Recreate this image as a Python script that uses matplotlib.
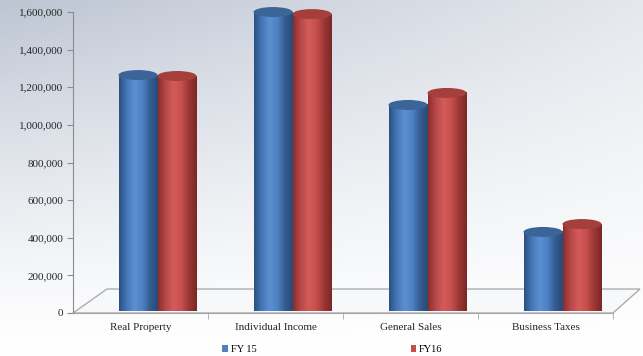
import numpy as np
import matplotlib
matplotlib.use("Agg")
import matplotlib.pyplot as plt
from matplotlib.patches import Ellipse, Polygon, Patch
from matplotlib.colors import LinearSegmentedColormap, to_rgb

categories = ['Real Property', 'Individual Income', 'General Sales', 'Business Taxes']
fy15 = [1201000, 1536000, 1042000, 367000]
fy16 = [1196000, 1525000, 1106000, 409000]
series_names = ['FY 15', 'FY16']
yticks = np.arange(0, 1600001, 200000)

plt.rcParams['font.family'] = ['Liberation Serif', 'DejaVu Serif']

W, H = 643, 356
fig = plt.figure(figsize=(W / 100, H / 100), dpi=100)

# background gradient over the whole figure
bg = fig.add_axes([0, 0, 1, 1], zorder=-10)
xx, yy = np.meshgrid(np.linspace(0, 1, 200), np.linspace(1, 0, 120))
d = np.clip(yy ** 1.3 * (1 - 0.6 * xx), 0, 1)
dark = np.array(to_rgb('#bdc5d3'))
img = 1 - d[..., None] * (1 - dark)
bg.imshow(img, aspect='auto', extent=[0, 1, 0, 1], interpolation='bilinear')
bg.axis('off')

# main axes: left edge at x=73px, front floor line at y=313px, top at y=12px
ax = fig.add_axes([73 / W, 43 / H, 540 / W, 301 / H])
ax.patch.set_alpha(0)
ymax = 1600000
ax.set_xlim(-0.5, 3.5)
ax.set_ylim(0, ymax)

px_x = 1 / 135.0          # one pixel in category units
px_y = ymax / 301.0       # one pixel in value units
dx, dy = 17 * px_x, 12 * px_y   # half depth offset of the floor
bw = 39 * px_x
eh = 10 * px_y

# floor parallelogram
floor = Polygon([(-0.5, 0), (3.5, 0), (3.5 + 27 * px_x, 24 * px_y),
                 (-0.5 + 34 * px_x, 24 * px_y)], closed=True,
                facecolor='#f7f8fa', edgecolor='#a6a6a6', lw=0.9,
                clip_on=False, zorder=1)
ax.add_patch(floor)

blue_cmap = LinearSegmentedColormap.from_list(
    'b', ['#2b5183', '#4577b8', '#5b8fd2', '#4f82c4', '#345d92', '#274a78'])
red_cmap = LinearSegmentedColormap.from_list(
    'r', ['#8a2f2d', '#b9484a', '#d35c59', '#c6504d', '#9c3835', '#7a2826'])
styles = [(fy15, blue_cmap, '#3b6598', -bw / 2), (fy16, red_cmap, '#a53f3c', bw / 2)]

grad = np.linspace(0, 1, 64)[None, :]
z = 3
for vals, cmap, capcol, off in styles:
    xs = np.arange(len(categories)) + dx + off
    bars = ax.bar(xs, vals, width=bw, bottom=dy, color='none', zorder=z, clip_on=False)
    for x, v, rect in zip(xs, vals, bars):
        ext = [x - bw / 2, x + bw / 2, dy - eh, dy + v]
        im = ax.imshow(grad, cmap=cmap, aspect='auto', extent=ext,
                       interpolation='bilinear', zorder=z, clip_on=False)
        im.set_clip_path(rect)
        base = Ellipse((x, dy), bw, eh, facecolor='none', edgecolor='none',
                       zorder=z, clip_on=False)
        ax.add_patch(base)
        im2 = ax.imshow(grad, cmap=cmap, aspect='auto', extent=ext,
                        interpolation='bilinear', zorder=z, clip_on=False)
        im2.set_clip_path(base)
        ax.add_patch(Ellipse((x, dy + v), bw, eh, facecolor=capcol,
                             edgecolor='none', zorder=z + 0.5, clip_on=False))
    z += 1

ax.set_xlim(-0.5, 3.5)
ax.set_ylim(0, ymax)

# axes styling
for s in ['top', 'right']:
    ax.spines[s].set_visible(False)
ax.spines['left'].set_color('#8c8c8c')
ax.spines['bottom'].set_color('#a6a6a6')
ax.spines['left'].set_zorder(2)
ax.spines['bottom'].set_zorder(2)
ax.set_yticks(yticks)
ax.set_yticklabels([f'{v:,.0f}' for v in yticks], fontsize=8, color='#262626')
ax.tick_params(axis='y', length=4, color='#8c8c8c', pad=3)
ax.set_xticks(range(len(categories)))
ax.set_xticklabels(categories, fontsize=8, color='#262626')
ax.tick_params(axis='x', which='major', length=0, pad=7)
ax.set_xticks([0.5, 1.5, 2.5, 3.5], minor=True)
ax.tick_params(axis='x', which='minor', length=4, color='#a6a6a6')

handles = [Patch(facecolor='#4f81bd'), Patch(facecolor='#c0504d')]
fig.legend(handles, series_names, loc='center', bbox_to_anchor=(0.517, 0.018),
           ncol=2, frameon=False, fontsize=7.5, handlelength=0.55, handleheight=0.55,
           handletextpad=0.25, columnspacing=14.8)

fig.savefig('out.png', dpi=100)
